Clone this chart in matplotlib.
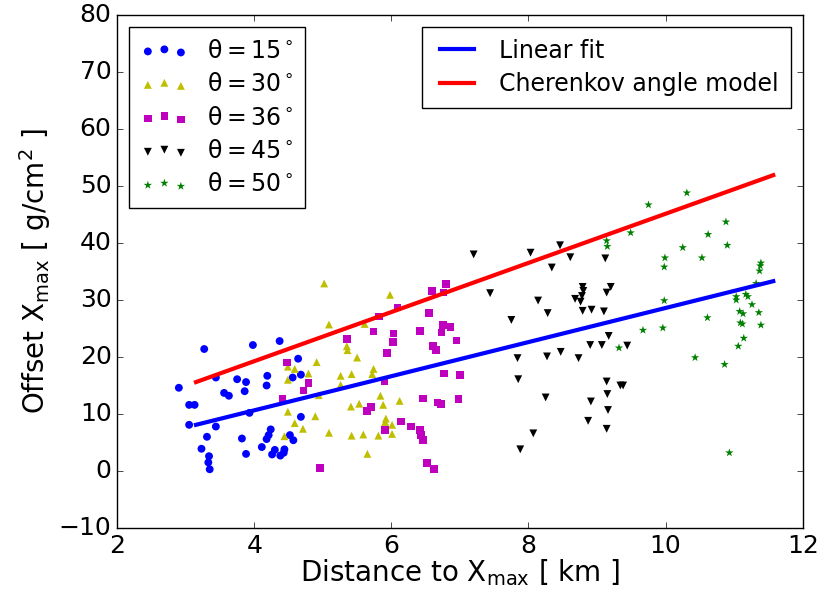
import matplotlib
matplotlib.use('Agg')
import matplotlib.pyplot as plt
import numpy as np

plt.style.use('classic')
plt.rcParams['mathtext.fontset'] = 'dejavusans'

# theta = 15 deg
x15 = [3.27, 3.98, 4.37, 2.90, 3.44, 3.75, 3.88, 3.56, 3.63, 3.86, 4.19, 4.18, 4.64, 4.56, 4.68,
       3.05, 3.13, 3.05, 3.44, 3.93, 4.68, 3.31, 3.82, 3.23, 3.34, 3.33, 3.35, 3.88, 4.24, 4.21,
       4.18, 4.11, 4.30, 4.26, 4.38, 4.44, 4.43, 4.52, 4.57]
y15 = [21.4, 22.1, 22.8, 14.6, 16.4, 16.1, 15.6, 13.7, 13.2, 14.0, 16.7, 15.0, 19.7, 16.4, 16.9,
       11.6, 11.6, 8.1, 7.8, 10.2, 9.5, 6.0, 5.7, 3.9, 2.6, 1.5, 0.3, 3.0, 7.3, 6.3,
       5.6, 4.2, 3.7, 2.9, 2.7, 3.8, 3.2, 6.3, 5.4]

# theta = 30 deg
x30 = [4.49, 4.59, 4.79, 4.91, 4.49, 4.49, 4.59, 4.71, 4.89, 4.44, 4.94, 5.02, 5.98, 5.09, 5.61,
       5.35, 5.36, 5.50, 5.26, 5.42, 5.74, 5.72, 5.26, 5.84, 6.12, 5.41, 5.53, 5.88, 5.92, 5.91,
       6.01, 5.09, 5.42, 5.59, 5.81, 6.01, 5.65]
y30 = [18.3, 17.9, 17.1, 19.1, 16.0, 10.4, 8.4, 7.4, 9.6, 6.1, 13.3, 32.9, 30.9, 25.7, 25.8,
       21.9, 21.2, 19.9, 16.7, 17.0, 17.9, 17.0, 15.1, 13.2, 12.3, 11.3, 11.8, 11.6, 9.2, 8.6,
       8.1, 6.7, 6.2, 6.4, 6.2, 6.5, 3.0]

# theta = 36 deg
x36 = [4.48, 4.79, 4.72, 4.41, 4.96, 6.80, 6.59, 6.76, 6.09, 5.82, 6.55, 6.75, 6.86, 6.73, 5.74,
       6.03, 6.02, 6.42, 5.35, 6.95, 6.61, 6.65, 5.94, 6.77, 7.00, 5.90, 6.46, 6.67, 6.72, 6.98,
       5.70, 5.64, 6.14, 6.29, 6.42, 6.43, 6.46, 5.91, 6.52, 6.62]
y36 = [19.0, 15.4, 14.1, 12.7, 0.5, 32.8, 31.6, 31.3, 28.7, 27.1, 27.7, 25.6, 25.3, 24.3, 24.5,
       24.1, 22.6, 24.6, 23.2, 22.9, 21.9, 21.2, 20.7, 17.1, 16.8, 15.8, 12.7, 12.0, 11.8, 12.6,
       11.2, 10.5, 8.7, 7.8, 7.2, 6.3, 5.4, 7.2, 1.4, 0.4]

# theta = 45 deg
x45 = [8.46, 7.20, 8.03, 8.61, 9.12, 8.34, 8.79, 8.80, 8.78, 9.20, 9.14, 7.44, 8.14, 8.68, 8.76,
       8.28, 8.79, 8.92, 9.10, 7.75, 9.17, 8.90, 9.07, 9.44, 8.47, 7.84, 8.27, 8.73, 7.85, 9.14,
       9.34, 9.38, 9.15, 8.25, 8.91, 9.16, 8.87, 9.14, 8.07, 7.88]
y45 = [39.6, 38.0, 38.3, 37.5, 37.3, 35.7, 32.3, 31.6, 30.7, 32.3, 31.3, 31.2, 29.9, 30.2, 29.7,
       27.7, 28.1, 28.3, 28.0, 26.5, 23.7, 22.1, 22.1, 22.0, 20.9, 19.8, 20.1, 19.8, 16.1, 15.7,
       15.0, 15.0, 13.5, 12.9, 12.2, 10.7, 8.8, 7.4, 6.6, 3.8]

# theta = 50 deg
x50 = [10.31, 9.75, 10.88, 9.49, 10.62, 9.14, 9.15, 10.25, 10.90, 9.99, 9.98, 10.53, 11.39, 11.38,
       11.37, 11.32, 11.03, 11.03, 11.17, 11.20, 9.98, 11.26, 11.08, 11.13, 11.36, 10.61, 11.09,
       11.12, 11.39, 9.67, 9.96, 11.14, 11.06, 9.32, 10.43, 10.86, 10.93]
y50 = [48.8, 46.7, 43.7, 41.8, 41.5, 40.4, 39.4, 39.2, 39.6, 37.4, 35.8, 37.4, 36.5, 36.0,
       35.1, 32.9, 30.6, 30.0, 31.0, 30.6, 29.9, 29.2, 28.0, 27.6, 27.8, 26.9, 26.0,
       25.8, 25.6, 24.7, 25.1, 23.3, 21.9, 21.6, 19.9, 18.7, 3.2]

# model lines (end points)
fit_x = [3.15, 11.57]
fit_y = [8.1, 33.3]
cher_x = [3.15, 11.57]
cher_y = [15.6, 51.9]

fig = plt.figure(figsize=(8.25, 6.03), dpi=100)
ax = fig.add_axes([0.142, 0.1244, 0.831, 0.8507])

s1 = ax.scatter(x15, y15, s=32, c='b', marker='o', edgecolors='none', label=r'$\mathrm{\theta = 15^\circ}$')
s2 = ax.scatter(x30, y30, s=32, c='y', marker='^', edgecolors='none', label=r'$\mathrm{\theta = 30^\circ}$')
s3 = ax.scatter(x36, y36, s=30, c='m', marker='s', edgecolors='none', label=r'$\mathrm{\theta = 36^\circ}$')
s4 = ax.scatter(x45, y45, s=32, c='k', marker='v', edgecolors='none', label=r'$\mathrm{\theta = 45^\circ}$')
s5 = ax.scatter(x50, y50, s=40, c='g', marker='*', edgecolors='none', label=r'$\mathrm{\theta = 50^\circ}$')

l1, = ax.plot(fit_x, fit_y, 'b-', lw=3, label='Linear fit')
l2, = ax.plot(cher_x, cher_y, 'r-', lw=3, label='Cherenkov angle model')

leg1 = ax.legend(handles=[s1, s2, s3, s4, s5], loc='upper left', scatterpoints=3,
                 fontsize=17, borderpad=0.5, labelspacing=0.4)
ax.add_artist(leg1)
ax.legend(handles=[l1, l2], loc='upper right', fontsize=17, handlelength=2.0,
          borderpad=0.5, labelspacing=0.4)

ax.set_xlim(2, 12)
ax.set_ylim(-10, 80)
ax.tick_params(labelsize=18)
ax.set_xlabel(r'Distance to X$_{\rm max}$ [ km ]', fontsize=20, labelpad=0)
ax.set_ylabel(r'Offset X$_{\rm max}$ [ g/cm$^2$ ]', fontsize=20, labelpad=4)

fig.savefig('out.png', dpi=100)
